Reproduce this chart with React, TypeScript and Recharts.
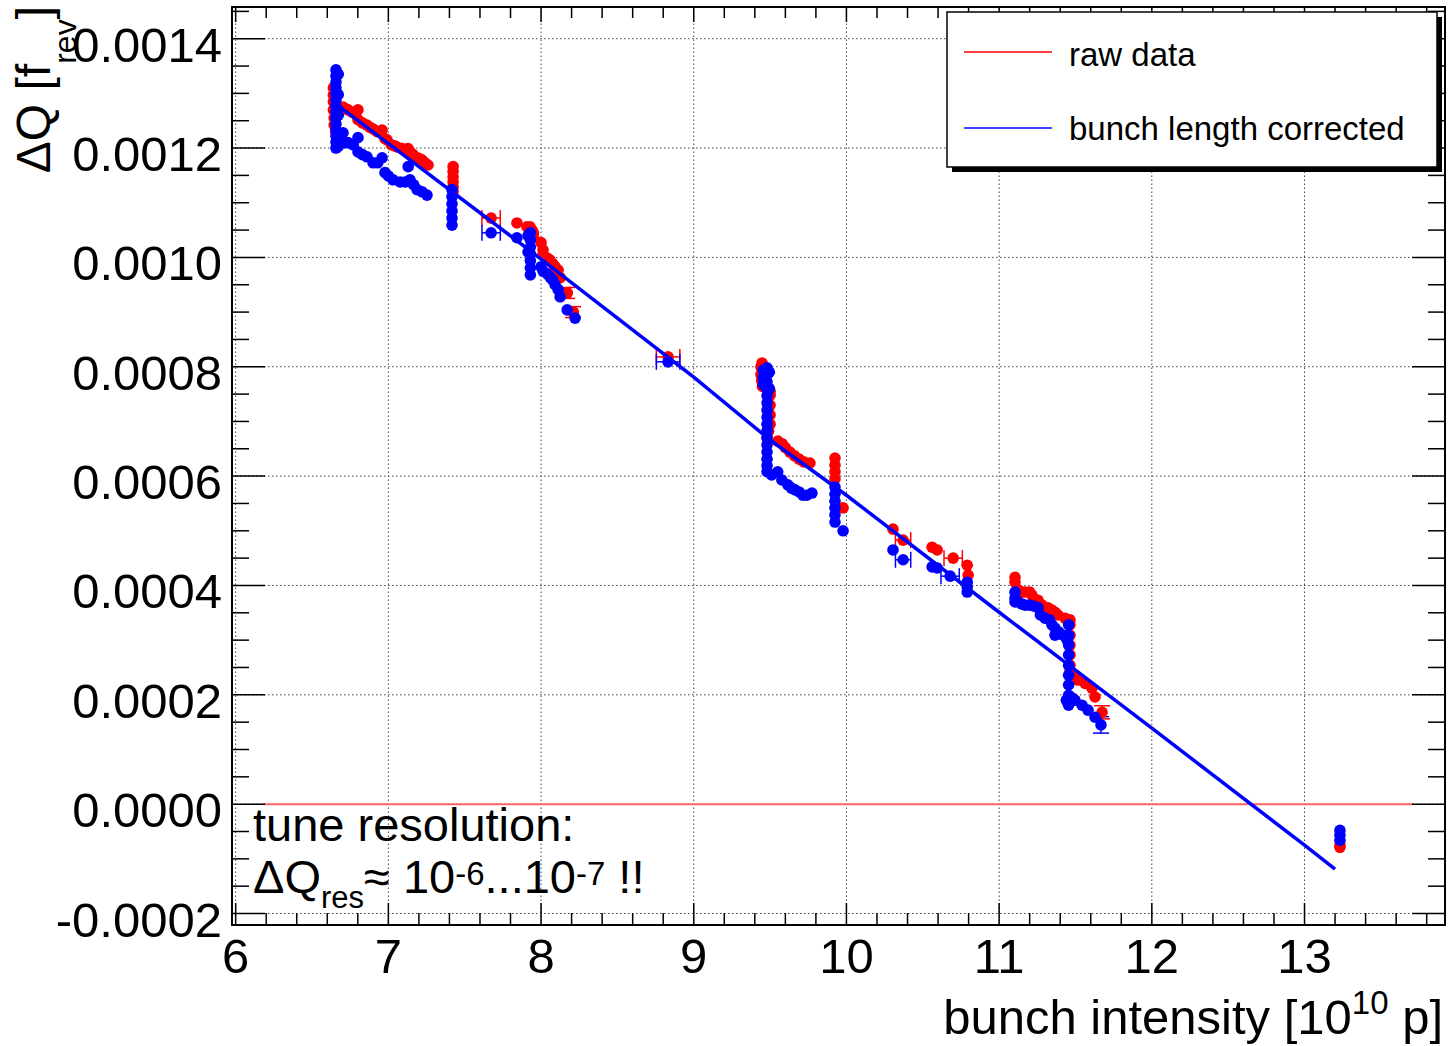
import React from "react";
import { ScatterChart, Scatter, XAxis, YAxis, ReferenceLine, ReferenceArea, ErrorBar } from "recharts";

type Pt = [number, number];
type PtErr = [number, number, number];

const FONT = "'Liberation Sans', Arial, Helvetica, sans-serif";
const W = 1453;
const H = 1046;
const PLOT_TOP = 7;
const PLOT_RIGHT = 1445;

const xDomain: [number, number] = [5.976, 13.92];
const yDomain: [number, number] = [-0.000221, 0.001458];

const xMajorTicks = [6, 7, 8, 9, 10, 11, 12, 13];
const yMajorTicks = [-0.0002, 0, 0.0002, 0.0004, 0.0006, 0.0008, 0.001, 0.0012, 0.0014];

// minor ticks: 0.2 on x, 0.00005 on y
const xTicks = Array.from({ length: 40 }, (_, i) => Math.round((6 + i * 0.2) * 10) / 10);
const yTicks = Array.from({ length: 34 }, (_, i) => Number(((i - 4) * 0.00005).toFixed(5)));

// raw data (red)
const rawData: Pt[] = [
  [6.64, 0.00131], [6.64, 0.001297], [6.64, 0.001285], [6.64, 0.00127], [6.645, 0.001255], [6.645, 0.001242], [6.655, 0.00123],
  [6.703, 0.001275], [6.72, 0.001272], [6.736, 0.00127], [6.76, 0.001266], [6.782, 0.001263], [6.801, 0.00127], [6.801, 0.001252],
  [6.83, 0.001246], [6.86, 0.001242], [6.88, 0.001238], [6.9, 0.001235], [6.926, 0.00123], [6.959, 0.001233], [6.978, 0.001217],
  [6.991, 0.001215], [7.02, 0.001206], [7.04, 0.001204], [7.057, 0.001202], [7.09, 0.001199], [7.11, 0.001197], [7.129, 0.001199],
  [7.142, 0.001193], [7.162, 0.001188], [7.19, 0.001182], [7.21, 0.00118], [7.221, 0.001178], [7.24, 0.001173], [7.26, 0.001169],
  [7.424, 0.001166], [7.424, 0.001157], [7.424, 0.001147], [7.424, 0.001138], [7.424, 0.001129], [7.424, 0.00112],
  [7.842, 0.001063],
  [7.908, 0.001056], [7.928, 0.001056], [7.941, 0.00105], [7.95, 0.001045], [7.95, 0.001038], [8.0, 0.001027], [8.013, 0.001014],
  [8.013, 0.001005], [8.04, 0.000999], [8.059, 0.000995], [8.075, 0.000989], [8.092, 0.000983], [8.112, 0.000977], [8.125, 0.000963],
  [8.171, 0.000935], [8.21, 0.0009],
  [9.447, 0.000807], [9.44, 0.0008], [9.44, 0.000786], [9.445, 0.000775], [9.45, 0.000764], [9.5, 0.000755], [9.5, 0.000748],
  [9.5, 0.00073], [9.5, 0.000712], [9.5, 0.000695], [9.49, 0.000682], [9.48, 0.00067], [9.551, 0.000664], [9.58, 0.000659],
  [9.6, 0.000652], [9.63, 0.000644], [9.66, 0.000637], [9.69, 0.000631], [9.72, 0.000626], [9.761, 0.000624],
  [9.925, 0.000633], [9.925, 0.00062], [9.925, 0.000608], [9.925, 0.000595], [9.978, 0.000542],
  [10.305, 0.000503], [10.561, 0.00047], [10.594, 0.000465], [10.791, 0.000437], [10.797, 0.000419],
  [11.104, 0.000415], [11.104, 0.000406], [11.124, 0.000392], [11.15, 0.000388], [11.17, 0.000388], [11.2, 0.000388],
  [11.216, 0.000382], [11.255, 0.000373], [11.281, 0.000364], [11.32, 0.000359], [11.346, 0.000355], [11.366, 0.000351],
  [11.386, 0.000346], [11.432, 0.00034], [11.464, 0.000337], [11.464, 0.000328], [11.464, 0.000309], [11.464, 0.000291],
  [11.464, 0.000273], [11.464, 0.000254], [11.464, 0.000242], [11.497, 0.000236], [11.517, 0.000227], [11.563, 0.000221],
  [11.608, 0.000212], [11.628, 0.000196],
  [13.232, -0.000079], [13.232, -0.000075],
];
const rawXErr: PtErr[] = [
  [7.673, 0.001072, 0.06], [8.832, 0.000818, 0.077], [10.371, 0.000483, 0.05], [10.699, 0.00045, 0.06],
];
const rawYErr: PtErr[] = [
  [8.171, 0.000935, 0.00001], [8.21, 0.0009, 0.00001], [11.674, 0.000168, 0.000012],
];

// bunch length corrected (blue)
const correctedData: Pt[] = [
  [6.657, 0.001343], [6.657, 0.001332], [6.657, 0.001321], [6.657, 0.00131], [6.657, 0.001299], [6.657, 0.001288],
  [6.657, 0.001277], [6.657, 0.001266], [6.657, 0.001255], [6.657, 0.001244], [6.657, 0.001233], [6.657, 0.001222],
  [6.657, 0.001211], [6.657, 0.0012], [6.672, 0.001335], [6.672, 0.001298], [6.672, 0.00126], [6.672, 0.001222], [6.672, 0.001203],
  [6.703, 0.001228], [6.72, 0.00121], [6.736, 0.00121], [6.77, 0.001206], [6.801, 0.001219], [6.801, 0.001193], [6.83, 0.001188],
  [6.86, 0.001184], [6.9, 0.001173], [6.93, 0.001173], [6.959, 0.001182], [6.978, 0.001155], [7.0, 0.001149], [7.031, 0.001142],
  [7.077, 0.001138], [7.11, 0.001138], [7.142, 0.001142], [7.13, 0.001166], [7.165, 0.001133], [7.188, 0.001124], [7.221, 0.00112],
  [7.253, 0.001114],
  [7.417, 0.001124], [7.417, 0.001111], [7.417, 0.001098], [7.417, 0.001085], [7.417, 0.001072], [7.417, 0.001059],
  [7.842, 0.001036],
  [7.93, 0.001045], [7.93, 0.001032], [7.93, 0.001019], [7.93, 0.001006], [7.93, 0.000994], [7.93, 0.000981], [7.93, 0.000968],
  [7.915, 0.00104], [7.915, 0.00101],
  [8.0, 0.000983], [8.013, 0.000975], [8.04, 0.00097], [8.059, 0.000964], [8.075, 0.000959], [8.092, 0.00095], [8.112, 0.000941],
  [8.125, 0.000928], [8.171, 0.000904], [8.223, 0.000889],
  [9.48, 0.000798], [9.48, 0.000785], [9.48, 0.000772], [9.48, 0.000759], [9.48, 0.000747], [9.48, 0.000734], [9.48, 0.000721],
  [9.48, 0.000708], [9.48, 0.000695], [9.48, 0.000683], [9.48, 0.00067], [9.48, 0.000657], [9.48, 0.000644], [9.48, 0.000631],
  [9.48, 0.000619], [9.48, 0.000608], [9.455, 0.000794], [9.455, 0.00078], [9.455, 0.000768], [9.495, 0.00079], [9.495, 0.00076],
  [9.51, 0.000602], [9.55, 0.000608], [9.577, 0.000593], [9.616, 0.000584], [9.64, 0.000578], [9.663, 0.000575], [9.69, 0.000571],
  [9.715, 0.000565], [9.74, 0.000565], [9.774, 0.000569],
  [9.925, 0.00058], [9.925, 0.000567], [9.925, 0.000554], [9.925, 0.000542], [9.925, 0.000529], [9.925, 0.000516], [9.978, 0.0005],
  [10.305, 0.000465], [10.561, 0.000434], [10.594, 0.000432], [10.791, 0.000406], [10.791, 0.000397], [10.791, 0.000388],
  [11.104, 0.000388], [11.104, 0.000377], [11.104, 0.00037], [11.124, 0.00037], [11.15, 0.000366], [11.17, 0.000364], [11.2, 0.000364],
  [11.23, 0.000362], [11.255, 0.000359], [11.27, 0.000346], [11.3, 0.00034], [11.33, 0.000337], [11.346, 0.000328], [11.366, 0.000322],
  [11.366, 0.000309], [11.39, 0.000315], [11.42, 0.000309], [11.445, 0.0003], [11.455, 0.000328], [11.455, 0.000309],
  [11.455, 0.000291], [11.455, 0.000273], [11.455, 0.000254], [11.455, 0.000236], [11.455, 0.000218], [11.455, 0.000199],
  [11.455, 0.000181], [11.44, 0.00019], [11.48, 0.000194], [11.497, 0.00019], [11.543, 0.000181], [11.582, 0.000172], [11.628, 0.000159],
  [13.232, -0.000048], [13.232, -0.000057], [13.232, -0.000066],
];
const correctedXErr: PtErr[] = [
  [7.673, 0.001045, 0.06], [8.832, 0.000809, 0.077], [10.371, 0.000447, 0.05], [10.679, 0.000417, 0.06],
];
const correctedYErr: PtErr[] = [[11.667, 0.000145, 0.000015]];

// fitted line and zero reference
const fitLine: Pt[] = [
  [6.684, 0.001275], [8.0, 0.000997], [9.0, 0.000781], [9.5, 0.000666], [10.0, 0.000565],
  [11.0, 0.000351], [11.5, 0.000245], [12.0, 0.000139], [13.0, -0.000075], [13.2, -0.000119],
];
const zeroLine: Pt[] = [[6.18, 0], [13.71, 0]];

const toObj = (d: Pt[]) => d.map(([x, y]) => ({ x, y }));
const toXErr = (d: PtErr[]) => d.map(([x, y, ex]) => ({ x, y, ex }));
const toYErr = (d: PtErr[]) => d.map(([x, y, ey]) => ({ x, y, ey }));

const RED = "#ff0000";
const BLUE = "#0000ff";

const isMajorY = (v: number) => Math.abs(v / 0.0002 - Math.round(v / 0.0002)) < 1e-6;

const XTick = (props: any) => {
  const { x, y, payload } = props;
  const v = payload.value as number;
  const major = xMajorTicks.includes(v);
  return (
    <g>
      <line x1={x} y1={y} x2={x} y2={y - (major ? 22 : 12)} stroke="#000" strokeWidth={1.5} />
      <line x1={x} y1={PLOT_TOP} x2={x} y2={PLOT_TOP + (major ? 15 : 11)} stroke="#000" strokeWidth={1.5} />
      {major && (
        <text x={x} y={y + 48} textAnchor="middle" fontSize={49} fontFamily={FONT} fill="#000">
          {v}
        </text>
      )}
    </g>
  );
};

const YTick = (props: any) => {
  const { x, y, payload } = props;
  const v = payload.value as number;
  const major = isMajorY(v);
  return (
    <g>
      <line x1={x} y1={y} x2={x + (major ? 33 : 17)} y2={y} stroke="#000" strokeWidth={1.5} />
      <line x1={PLOT_RIGHT} y1={y} x2={PLOT_RIGHT - (major ? 33 : 17)} y2={y} stroke="#000" strokeWidth={1.5} />
      {major && (
        <text x={x - 10} y={y + 23} textAnchor="end" fontSize={49} fontFamily={FONT} fill="#000">
          {v.toFixed(4)}
        </text>
      )}
    </g>
  );
};

const dot = (color: string) => (p: any) => <circle cx={p.cx} cy={p.cy} r={5.8} fill={color} />;

export default function App() {
  return (
    <div style={{ position: "absolute", left: 0, top: 0, width: W, height: H, background: "#fff" }}>
      <ScatterChart width={W} height={H} margin={{ top: PLOT_TOP, right: W - PLOT_RIGHT, left: 0, bottom: 0 }}>
        <XAxis
          type="number"
          dataKey="x"
          domain={xDomain}
          allowDataOverflow
          ticks={xTicks}
          interval={0}
          height={121}
          axisLine={false}
          tickLine={false}
          tickSize={0}
          tickMargin={0}
          tick={<XTick />}
        />
        <YAxis
          type="number"
          dataKey="y"
          domain={yDomain}
          allowDataOverflow
          ticks={yTicks}
          interval={0}
          width={232}
          axisLine={false}
          tickLine={false}
          tickSize={0}
          tickMargin={0}
          tick={<YTick />}
        />
        {xMajorTicks.map((v) => (
          <ReferenceLine key={"gx" + v} x={v} stroke="#444" strokeWidth={1} strokeDasharray="1.5 2.5" />
        ))}
        {yMajorTicks.map((v) => (
          <ReferenceLine key={"gy" + v} y={v} stroke="#444" strokeWidth={1} strokeDasharray="1.5 2.5" />
        ))}
        <ReferenceLine
          segment={[
            { x: zeroLine[0][0], y: zeroLine[0][1] },
            { x: zeroLine[1][0], y: zeroLine[1][1] },
          ]}
          stroke="#ff6464"
          strokeWidth={2}
        />
        <ReferenceArea x1={xDomain[0]} x2={xDomain[1]} y1={yDomain[0]} y2={yDomain[1]} fill="none" stroke="#000" strokeWidth={2} />

        <Scatter data={toObj(rawData)} shape={dot(RED)} isAnimationActive={false} />
        <Scatter data={toXErr(rawXErr)} shape={dot(RED)} isAnimationActive={false}>
          <ErrorBar dataKey="ex" direction="x" width={8} stroke={RED} strokeWidth={1.5} />
        </Scatter>
        <Scatter data={toYErr(rawYErr)} shape={dot(RED)} isAnimationActive={false}>
          <ErrorBar dataKey="ey" direction="y" width={8} stroke={RED} strokeWidth={1.5} />
        </Scatter>

        <Scatter data={toObj(correctedData)} shape={dot(BLUE)} isAnimationActive={false} />
        <Scatter data={toXErr(correctedXErr)} shape={dot(BLUE)} isAnimationActive={false}>
          <ErrorBar dataKey="ex" direction="x" width={8} stroke={BLUE} strokeWidth={1.5} />
        </Scatter>
        <Scatter data={toYErr(correctedYErr)} shape={dot(BLUE)} isAnimationActive={false}>
          <ErrorBar dataKey="ey" direction="y" width={8} stroke={BLUE} strokeWidth={1.5} />
        </Scatter>

        <Scatter
          data={toObj(fitLine)}
          line={{ stroke: BLUE, strokeWidth: 3.5 }}
          shape={() => <g />}
          isAnimationActive={false}
        />
      </ScatterChart>

      <svg
        width={W}
        height={H}
        style={{ position: "absolute", left: 0, top: 0, pointerEvents: "none" }}
        fontFamily={FONT}
      >
        {/* legend */}
        <rect x={952} y={17} width={490} height={155} fill="#000" />
        <rect x={947} y={12} width={490} height={155} fill="#fff" stroke="#000" strokeWidth={1.5} />
        <line x1={964} y1={52} x2={1052} y2={52} stroke={RED} strokeWidth={1.5} />
        <text x={1069} y={66} fontSize={33} fill="#000">raw data</text>
        <line x1={964} y1={128} x2={1052} y2={128} stroke={BLUE} strokeWidth={1.5} />
        <text x={1069} y={140} fontSize={33} fill="#000">bunch length corrected</text>

        {/* axis titles */}
        <text transform="translate(50,6) rotate(-90)" textAnchor="end" fontSize={48} fill="#000">
          ΔQ [f<tspan fontSize={32} dy={26}>rev</tspan>
          <tspan dy={-26}>]</tspan>
        </text>
        <text x={1443} y={1034} textAnchor="end" fontSize={49} fill="#000">
          bunch intensity [10<tspan fontSize={33} dy={-20}>10</tspan>
          <tspan dy={20}>{" p]"}</tspan>
        </text>

        {/* annotation */}
        <text x={253} y={841} fontSize={47} fill="#000">tune resolution:</text>
        <text x={253} y={893} fontSize={47} fill="#000">
          ΔQ<tspan fontSize={31} dy={15}>res</tspan>
          <tspan dy={-15}>≈ 10</tspan>
          <tspan fontSize={33} dy={-8}>-6</tspan>
          <tspan dy={8}>...10</tspan>
          <tspan fontSize={33} dy={-8}>-7</tspan>
          <tspan dy={8}>{" !!"}</tspan>
        </text>
      </svg>
    </div>
  );
}
